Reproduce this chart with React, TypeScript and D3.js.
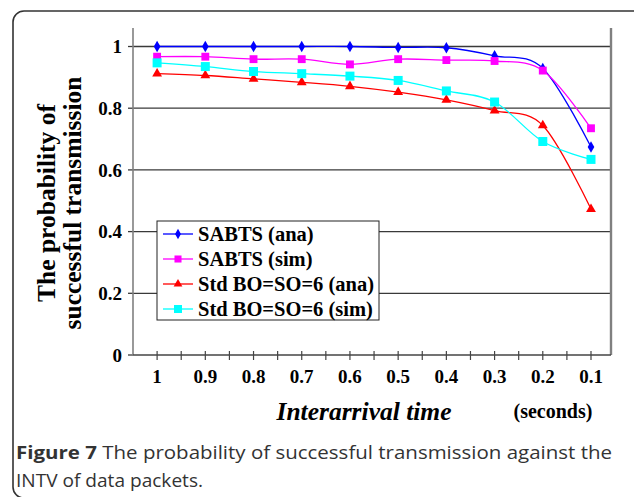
import * as d3 from "d3";

// interarrival time (seconds)
const intervals = [1, 0.9, 0.8, 0.7, 0.6, 0.5, 0.4, 0.3, 0.2, 0.1];
const sabtsAna = [1.0, 1.0, 1.0, 1.0, 1.0, 0.997, 0.996, 0.97, 0.929, 0.674];
const sabtsSim = [0.967, 0.967, 0.959, 0.959, 0.942, 0.959, 0.956, 0.953, 0.922, 0.735];
const stdAna = [0.912, 0.906, 0.895, 0.884, 0.871, 0.852, 0.827, 0.792, 0.744, 0.473];
const stdSim = [0.947, 0.935, 0.919, 0.912, 0.904, 0.89, 0.856, 0.82, 0.692, 0.634];
const yTicks = [0, 0.2, 0.4, 0.6, 0.8, 1];
const xTickLabels = ["1", "0.9", "0.8", "0.7", "0.6", "0.5", "0.4", "0.3", "0.2", "0.1"];

const series = [
  { name: "SABTS (ana)", values: sabtsAna, color: "#0000ff", shape: "diamond" },
  { name: "SABTS (sim)", values: sabtsSim, color: "#ff00ff", shape: "square" },
  { name: "Std BO=SO=6 (ana)", values: stdAna, color: "#ff0000", shape: "triangle" },
  { name: "Std BO=SO=6 (sim)", values: stdSim, color: "#00ffff", shape: "bigsquare" },
];

const W = 634, H = 497;
const left = 133, right = 611, top = 28, bottom = 355;
const serif = "Liberation Serif, Times New Roman, Times, serif";

function marker(shape: string, scale = 1) {
  const s = d3.symbol();
  if (shape === "diamond") return s.type(d3.symbolDiamond).size(38 * scale)();
  if (shape === "triangle") return s.type(d3.symbolTriangle).size(42 * scale)();
  if (shape === "bigsquare") return s.type(d3.symbolSquare).size(81 * scale)();
  return s.type(d3.symbolSquare).size(62 * scale)();
}

export default function App() {
  const x = d3.scaleLinear().domain([1.05, 0.1]).range([left, 591]);
  const y = d3.scaleLinear().domain([0, 1.06]).range([bottom, top]);
  const line = d3
    .line<number>()
    .x((d, i) => x(intervals[i]))
    .y((d) => y(d))
    .curve(d3.curveCardinal.tension(0));
  const minorTicks = d3.range(1, 0.05, -0.05);

  return (
    <div style={{ position: "fixed", left: 0, top: 0 }}>
      <svg width={W} height={H} style={{ display: "block", background: "#fff" }}>
        <rect x={13} y={11} width={640} height={487} rx={11} fill="none" stroke="#333" strokeWidth={1.6} />

        {/* gridlines + y ticks */}
        {yTicks.map((t) => (
          <g key={t}>
            {t > 0 && <line x1={left} x2={right} y1={y(t)} y2={y(t)} stroke="#3a3a3a" strokeWidth={1.3} />}
            <line x1={left - 5} x2={left} y1={y(t)} y2={y(t)} stroke="#3a3a3a" strokeWidth={1.3} />
            <text x={122} y={y(t)} dy="0.35em" textAnchor="end" style={{ fontFamily: serif }} fontWeight="bold" fontSize={19}>
              {t === 0 || t === 1 ? String(t) : t.toFixed(1)}
            </text>
          </g>
        ))}

        {/* axes */}
        <line x1={left} x2={left} y1={top} y2={bottom} stroke="#808080" strokeWidth={1.6} />
        <line x1={right} x2={right} y1={top} y2={bottom} stroke="#808080" strokeWidth={2.4} />
        <line x1={left} x2={right} y1={bottom} y2={bottom} stroke="#444" strokeWidth={1.4} />
        {minorTicks.map((t, i) => (
          <line key={i} x1={x(t)} x2={x(t)} y1={bottom - 4} y2={bottom + 5} stroke="#444" strokeWidth={1.2} />
        ))}
        {intervals.map((t, i) => (
          <text key={t} x={x(t)} y={383} textAnchor="middle" style={{ fontFamily: serif }} fontWeight="bold" fontSize={19}>
            {xTickLabels[i]}
          </text>
        ))}

        {/* series */}
        {series.map((s) => (
          <g key={s.name}>
            <path d={line(s.values) ?? ""} fill="none" stroke={s.color} strokeWidth={1.3} />
            {s.values.map((v, i) => (
              <path key={i} d={marker(s.shape) ?? ""} transform={`translate(${x(intervals[i])},${y(v)})`} fill={s.color} />
            ))}
          </g>
        ))}

        {/* legend */}
        <rect x={157} y={221} width={222} height={99} fill="#fff" stroke="#222" strokeWidth={1} />
        {series.map((s, i) => {
          const ly = 234 + i * 25;
          return (
            <g key={s.name}>
              <line x1={163} x2={193} y1={ly} y2={ly} stroke={s.color} strokeWidth={1.3} />
              <path d={marker(s.shape, 0.8) ?? ""} transform={`translate(178,${ly})`} fill={s.color} />
              <text x={198} y={ly} dy="0.35em" style={{ fontFamily: serif }} fontWeight="bold" fontSize={20.5}>
                {s.name}
              </text>
            </g>
          );
        })}

        {/* axis titles */}
        <g transform="translate(0,203) rotate(-90)" style={{ fontFamily: serif }} fontWeight="bold" fontSize={25.5} textAnchor="middle">
          <text x={0} y={55}>The probability of</text>
          <text x={0} y={81}>successful transmission</text>
        </g>
        <text x={364} y={420} textAnchor="middle" style={{ fontFamily: serif }} fontWeight="bold" fontStyle="italic" fontSize={25.5}>
          Interarrival time
        </text>
        <text x={553} y={418} textAnchor="middle" style={{ fontFamily: serif }} fontWeight="bold" fontSize={20}>
          (seconds)
        </text>

        {/* caption */}
        <g style={{ fontFamily: "Open Sans, Noto Sans, sans-serif" }} fontSize={18.5} fill="#333">
          <text x={16} y={459} textLength={596} lengthAdjust="spacingAndGlyphs">
            <tspan fontWeight="bold">Figure 7</tspan> The probability of successful transmission against the
          </text>
          <text x={16} y={487} textLength={187} lengthAdjust="spacingAndGlyphs">
            INTV of data packets.
          </text>
        </g>
      </svg>
    </div>
  );
}
